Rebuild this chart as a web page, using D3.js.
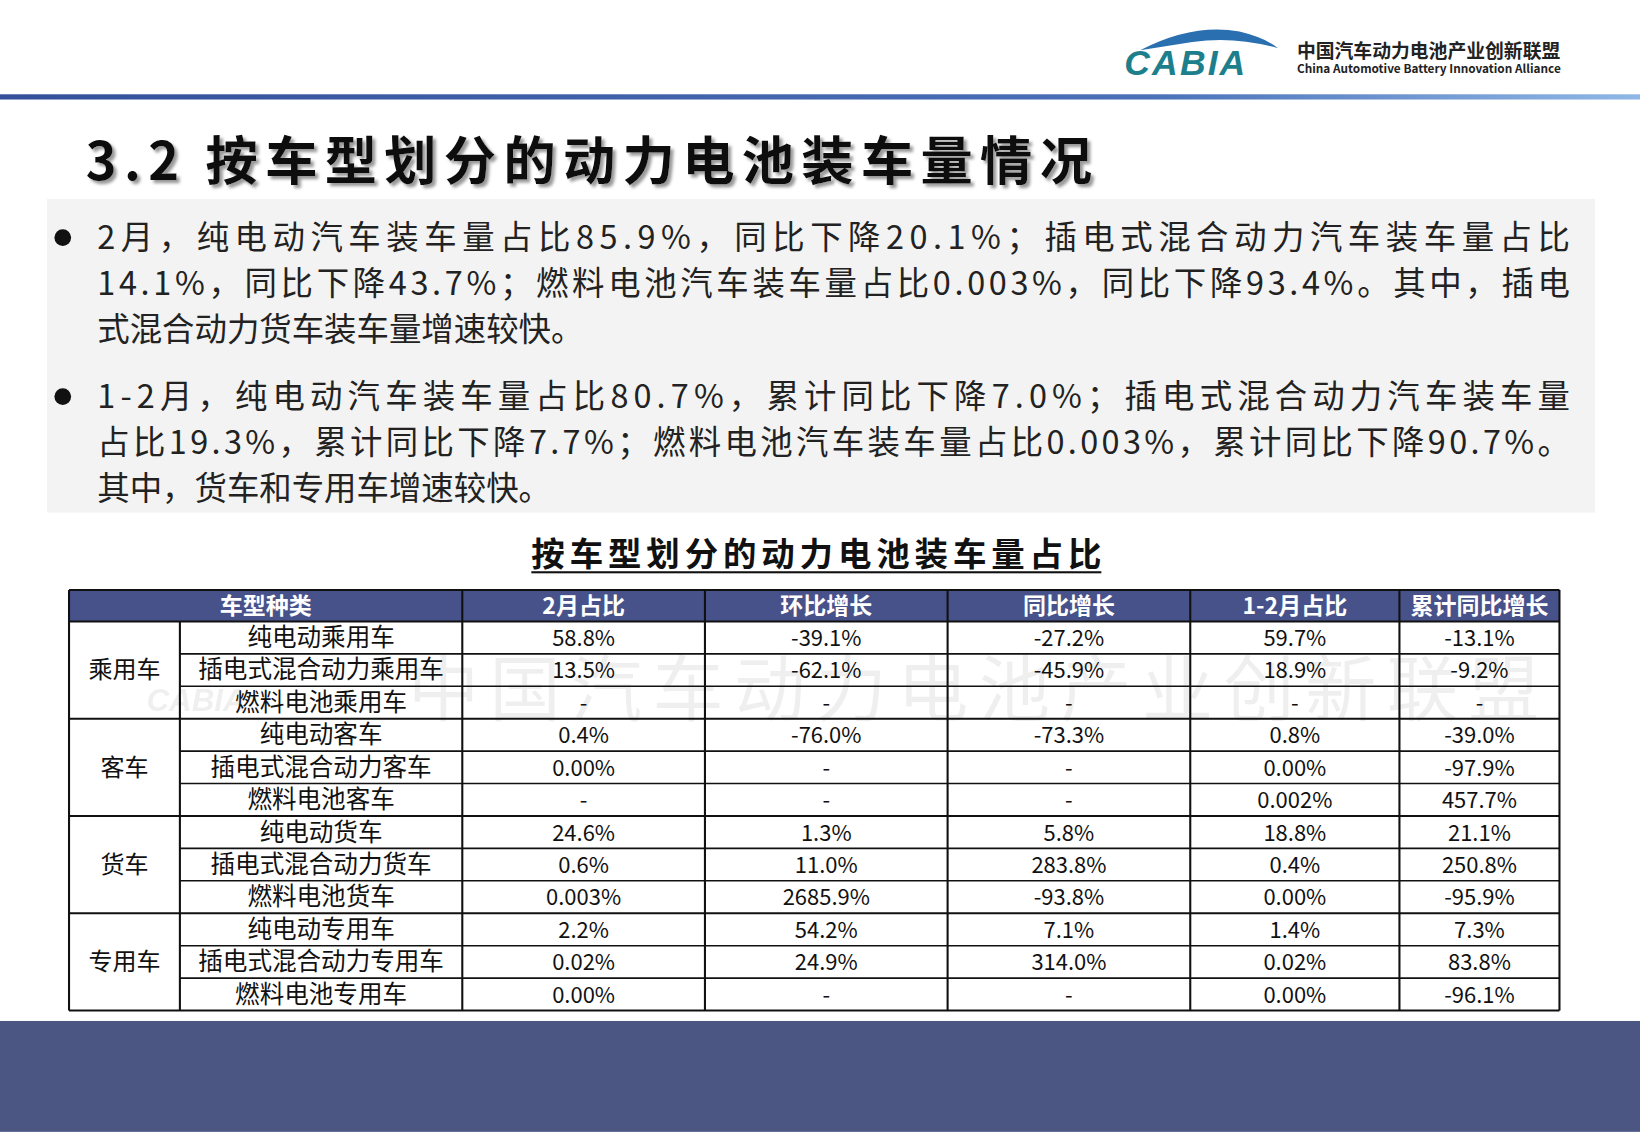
<!DOCTYPE html>
<html><head><meta charset="utf-8">
<script src="https://cdn.jsdelivr.net/npm/d3@7/dist/d3.min.js"></script>
<style>body{margin:0;background:#fff}svg{display:block}</style>
</head><body>
<svg id="c" width="1640" height="1132" viewBox="0 0 1568 1082"></svg>
<script>
const headers = ["车型种类","2月占比","环比增长","同比增长","1-2月占比","累计同比增长"];
const groups = ["乘用车","客车","货车","专用车"];
const subtypes = ["纯电动乘用车","插电式混合动力乘用车","燃料电池乘用车","纯电动客车","插电式混合动力客车","燃料电池客车","纯电动货车","插电式混合动力货车","燃料电池货车","纯电动专用车","插电式混合动力专用车","燃料电池专用车"];
const febShare = ["58.8%","13.5%","-","0.4%","0.00%","-","24.6%","0.6%","0.003%","2.2%","0.02%","0.00%"];
const momGrowth = ["-39.1%","-62.1%","-","-76.0%","-","-","1.3%","11.0%","2685.9%","54.2%","24.9%","-"];
const yoyGrowth = ["-27.2%","-45.9%","-","-73.3%","-","-","5.8%","283.8%","-93.8%","7.1%","314.0%","-"];
const ytdShare = ["59.7%","18.9%","-","0.8%","0.00%","0.002%","18.8%","0.4%","0.00%","1.4%","0.02%","0.00%"];
const ytdGrowth = ["-13.1%","-9.2%","-","-39.0%","-97.9%","457.7%","21.1%","250.8%","-95.9%","7.3%","83.8%","-96.1%"];
const bullets = [
 ["2月，纯电动汽车装车量占比85.9%，同比下降20.1%；插电式混合动力汽车装车量占比","14.1%，同比下降43.7%；燃料电池汽车装车量占比0.003%，同比下降93.4%。其中，插电","式混合动力货车装车量增速较快。"],
 ["1-2月，纯电动汽车装车量占比80.7%，累计同比下降7.0%；插电式混合动力汽车装车量","占比19.3%，累计同比下降7.7%；燃料电池汽车装车量占比0.003%，累计同比下降90.7%。","其中，货车和专用车增速较快。"]
];
const F = "'Noto Sans CJK SC','Noto Sans',sans-serif";
const svg = d3.select("#c");
const defs = svg.append("defs");
const g1 = defs.append("linearGradient").attr("id","tl");
g1.append("stop").attr("offset","0").attr("stop-color","#34509a");
g1.append("stop").attr("offset","0.7").attr("stop-color","#4a70b8");
g1.append("stop").attr("offset","1").attr("stop-color","#8fb8e6");
const fl = defs.append("filter").attr("id","sh");
fl.append("feDropShadow").attr("dx",3).attr("dy",3).attr("stdDeviation",1.5).attr("flood-color","#999");

svg.append("rect").attr("x",0).attr("y",90).attr("width",1568).attr("height",5).attr("fill","url(#tl)");
// logo
svg.append("path").attr("d","M1090 48 Q1140 22 1185 30 Q1210 36 1222 46 Q1180 34 1140 40 Z").attr("fill","#2a6fb0");
svg.append("text").attr("x",1075).attr("y",72).attr("font-family","Liberation Sans,sans-serif").attr("font-weight","bold").attr("font-style","italic").attr("font-size",34).attr("fill","#1d7f8c").attr("letter-spacing",2).text("CABIA");
svg.append("text").attr("x",1240).attr("y",55).attr("font-family",F).attr("font-weight","bold").attr("font-size",18).attr("fill","#222").text("中国汽车动力电池产业创新联盟");
svg.append("text").attr("x",1240).attr("y",70).attr("font-family",F).attr("font-weight","bold").attr("font-size",11.3).attr("fill","#222").text("China Automotive Battery Innovation Alliance");
// title
svg.append("text").attr("x",82).attr("y",172).attr("font-family",F).attr("font-weight","bold").attr("font-size",50).attr("fill","#111").attr("filter","url(#sh)").attr("textLength",962).text("3.2 按车型划分的动力电池装车量情况");
// box
svg.append("rect").attr("x",45).attr("y",190).attr("width",1480).attr("height",300).attr("fill","#f2f3f2");
bullets.forEach((b,i)=>{
  const y0 = 238 + i*152;
  svg.append("circle").attr("cx",60).attr("cy",y0-11).attr("r",8).attr("fill","#111");
  b.forEach((l,j)=>svg.append("text").attr("x",93).attr("y",y0+j*44).attr("font-family",F).attr("font-size",31).attr("fill","#222").attr("textLength",j<2?1408:null).text(l));
});
// subtitle
svg.append("text").attr("x",508).attr("y",541).attr("font-family",F).attr("font-weight","bold").attr("font-size",32).attr("fill","#111").attr("textLength",545).text("按车型划分的动力电池装车量占比");
svg.append("rect").attr("x",508).attr("y",546).attr("width",545).attr("height",2).attr("fill","#111");
// watermark
svg.append("text").attr("x",390).attr("y",683).attr("font-family",F).attr("font-size",68).attr("fill","#000").attr("opacity",0.06).attr("letter-spacing",10).text("中国汽车动力电池产业创新联盟");
svg.append("text").attr("x",140).attr("y",680).attr("font-family","Liberation Sans").attr("font-style","italic").attr("font-weight","bold").attr("font-size",30).attr("fill","#000").attr("opacity",0.06).text("CABIA");
// table
const colX = [66,172,442,674,906,1138,1338,1491];
const y = d3.scaleBand().domain(d3.range(12)).range([594,966]);
const rh = y.bandwidth();
const T = svg.append("g");
T.append("rect").attr("x",66).attr("y",564).attr("width",1425).attr("height",30).attr("fill","#48528a");
const hx = [[66,442],[442,674],[674,906],[906,1138],[1138,1338],[1338,1491]];
headers.forEach((h,i)=>T.append("text").attr("x",(hx[i][0]+hx[i][1])/2).attr("y",587).attr("text-anchor","middle").attr("font-family",F).attr("font-weight","bold").attr("font-size",22).attr("fill","#fff").text(h));
const cols = [febShare,momGrowth,yoyGrowth,ytdShare,ytdGrowth];
const txt = (x,yy,s,fs)=>T.append("text").attr("x",x).attr("y",yy).attr("text-anchor","middle").attr("font-family",F).attr("font-size",fs||21).attr("fill","#111").text(s);
subtypes.forEach((s,r)=>{
  const yy = y(r)+rh/2+8;
  txt((172+442)/2,yy,s,23.5);
  cols.forEach((c,k)=>txt((colX[k+2]+colX[k+3])/2,yy,c[r]));
});
groups.forEach((g,i)=>txt(119,y(i*3)+rh*1.5+8,g,23));
const ln=(x1,y1,x2,y2,w)=>T.append("line").attr("x1",x1).attr("y1",y1).attr("x2",x2).attr("y2",y2).attr("stroke","#111").attr("stroke-width",w||1.5);
d3.range(13).forEach(r=>{const yy=594+r*rh; ln(r%3===0?66:172,yy,1491,yy,r%3===0?2:1.5);});
ln(66,564,1491,564,2);
colX.forEach((x,i)=>ln(x,i===1?594:564,x,966,2));
// bottom band
svg.append("rect").attr("x",0).attr("y",976).attr("width",1568).attr("height",106).attr("fill","#4b5683");
</script></body></html>
